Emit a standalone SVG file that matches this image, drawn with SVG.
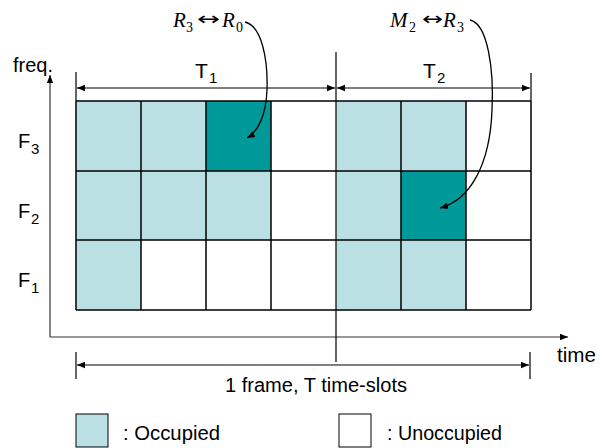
<svg xmlns="http://www.w3.org/2000/svg" width="606" height="448" viewBox="0 0 606 448">
<defs>
<marker id="ah" viewBox="0 0 10 10" refX="10" refY="5" markerWidth="8" markerHeight="8" markerUnits="userSpaceOnUse" orient="auto-start-reverse">
<path d="M0,1 L10,5 L0,9 z" fill="#000"/>
</marker>
</defs>
<style>
.lt{fill:#BBE0E3}
.dk{fill:#009999}
.wh{fill:#FFFFFF}
.grid{stroke:#000;stroke-width:1.5;fill:none}
.ax{stroke:#333;stroke-width:1.2;fill:none}
.dim{stroke:#000;stroke-width:1.2;fill:none}
.lbl{font-family:"Liberation Sans",Arial,sans-serif;font-size:20px;fill:#000}
.sub{font-family:"Liberation Sans",Arial,sans-serif;font-size:15px;fill:#000}
.math{font-family:"Liberation Serif","Times New Roman",serif;font-style:italic;font-size:21px;fill:#000}
.msub{font-family:"Liberation Serif","Times New Roman",serif;font-size:14px;fill:#000}
.arr{font-family:"DejaVu Sans",sans-serif;font-size:18px;fill:#000}
.cv{stroke:#000;stroke-width:1.3;fill:none}
</style>
<rect width="606" height="448" fill="#fff"/>
<g id="cells">
<rect class="lt" x="76" y="101" width="65" height="70"/>
<rect class="lt" x="141" y="101" width="65" height="70"/>
<rect class="dk" x="206" y="101" width="65" height="70"/>
<rect class="lt" x="336" y="101" width="65" height="70"/>
<rect class="lt" x="401" y="101" width="65" height="70"/>
<rect class="lt" x="76" y="171" width="65" height="69"/>
<rect class="lt" x="141" y="171" width="65" height="69"/>
<rect class="lt" x="206" y="171" width="65" height="69"/>
<rect class="lt" x="336" y="171" width="65" height="69"/>
<rect class="dk" x="401" y="171" width="65" height="69"/>
<rect class="lt" x="76" y="240" width="65" height="70"/>
<rect class="lt" x="336" y="240" width="65" height="70"/>
<rect class="lt" x="401" y="240" width="65" height="70"/>
</g>
<g id="grid">
<path class="grid" d="M76,101 H531 M76,171 H531 M76,240 H531 M76,310 H531 M76,101 V310 M141,101 V310 M206,101 V310 M271,101 V310 M401,101 V310 M466,101 V310 M531,101 V310"/>
</g>
<g id="axes">
<path class="ax" d="M50,337 V75" marker-end="url(#ah)"/>
<path class="ax" d="M50,337 H568" marker-end="url(#ah)"/>
<text class="lbl" x="13" y="72">freq.</text>
<text class="lbl" x="557" y="362" textLength="39" lengthAdjust="spacingAndGlyphs">time</text>
</g>
<g id="rowlabels">
<text class="lbl" x="18" y="148">F</text><text class="sub" x="31" y="154">3</text>
<text class="lbl" x="18" y="218">F</text><text class="sub" x="31" y="224">2</text>
<text class="lbl" x="18" y="287">F</text><text class="sub" x="31" y="293">1</text>
</g>
<g id="dimensions">
<path class="dim" d="M76,72 V101 M531,73 V101 M336,52 V362 M76,352 V379 M530,352 V379"/>
<path class="dim" d="M77,88 H335" marker-start="url(#ah)" marker-end="url(#ah)"/>
<path class="dim" d="M337,88 H530" marker-start="url(#ah)" marker-end="url(#ah)"/>
<path class="dim" d="M77,365 H529" marker-start="url(#ah)" marker-end="url(#ah)"/>
<text class="lbl" x="195" y="78" style="font-size:21px">T</text><text class="sub" x="209" y="83">1</text>
<text class="lbl" x="423" y="78" style="font-size:21px">T</text><text class="sub" x="437" y="83">2</text>
<text class="lbl" x="225" y="392" textLength="182" lengthAdjust="spacingAndGlyphs">1 frame, T time-slots</text>
</g>
<g id="annotations">
<text class="math" x="173" y="27">R</text><text class="msub" x="186" y="32">3</text>
<text class="arr" x="197" y="25" textLength="23" lengthAdjust="spacingAndGlyphs">↔</text>
<text class="math" x="222" y="27">R</text><text class="msub" x="236" y="32">0</text>
<text class="math" x="390" y="27">M</text><text class="msub" x="409" y="32">2</text>
<text class="arr" x="422" y="25" textLength="21" lengthAdjust="spacingAndGlyphs">↔</text>
<text class="math" x="443" y="27">R</text><text class="msub" x="457" y="32">3</text>
</g>
<g id="connectors">
<path class="cv" d="M245,22 C262,26 268,60 267,90 C266,115 258,132 247,138" marker-end="url(#ah)"/>
<path class="cv" d="M470,20 C488,24 494,70 492,110 C490,165 470,200 440,208" marker-end="url(#ah)"/>
</g>
<g id="legend">
<rect class="lt" x="76" y="414" width="32" height="33" stroke="#000" stroke-width="1"/>
<text class="lbl" x="123" y="440" textLength="97" lengthAdjust="spacingAndGlyphs">: Occupied</text>
<rect class="wh" x="339" y="414" width="32" height="33" stroke="#000" stroke-width="1"/>
<text class="lbl" x="387" y="440" textLength="115" lengthAdjust="spacingAndGlyphs">: Unoccupied</text>
</g>
</svg>
